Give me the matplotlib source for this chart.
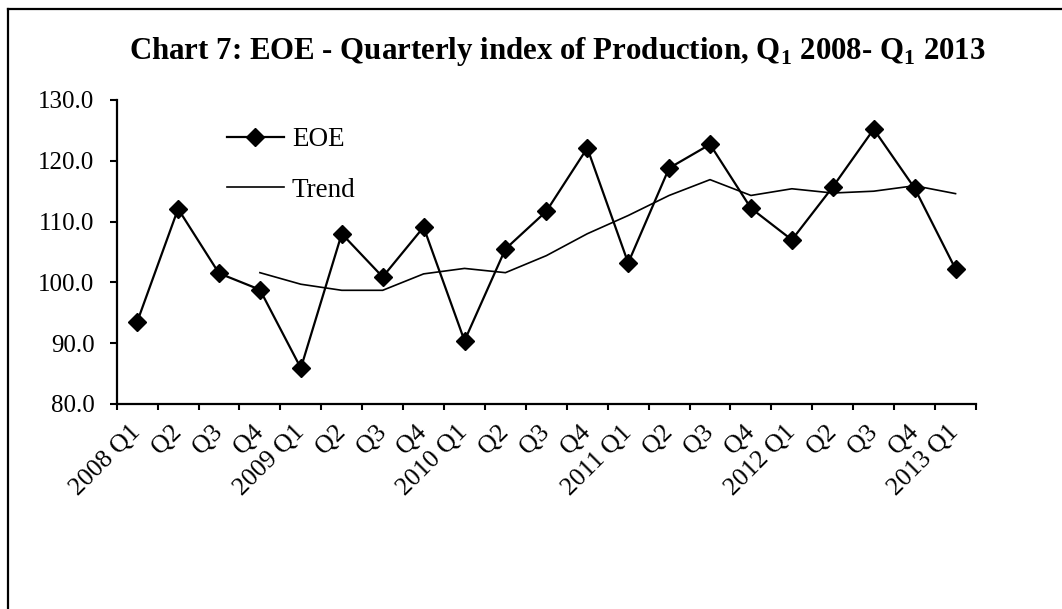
import matplotlib
matplotlib.use("Agg")
import matplotlib.pyplot as plt
import numpy as np

categories = ["2008 Q1", "Q2", "Q3", "Q4", "2009 Q1", "Q2", "Q3", "Q4",
              "2010 Q1", "Q2", "Q3", "Q4", "2011 Q1", "Q2", "Q3", "Q4",
              "2012 Q1", "Q2", "Q3", "Q4", "2013 Q1"]
eoe = [93.5, 112.1, 101.5, 98.8, 85.9, 108.0, 100.9, 109.1,
       90.4, 105.5, 111.7, 122.1, 103.2, 118.8, 122.7, 112.2,
       107.0, 115.7, 125.2, 115.5, 102.2]
trend = [np.nan, np.nan, np.nan, 101.6, 99.7, 98.7, 98.7, 101.4,
         102.3, 101.6, 104.4, 108.0, 111.0, 114.3, 116.9, 114.3,
         115.4, 114.7, 115.0, 115.9, 114.6]
yticks = [80, 90, 100, 110, 120, 130]

plt.rcParams['font.family'] = ['Liberation Serif', 'DejaVu Serif']
plt.rcParams['mathtext.fontset'] = 'custom'
plt.rcParams['mathtext.rm'] = 'Liberation Serif'
plt.rcParams['mathtext.bf'] = 'Liberation Serif:bold'

W, H = 1062, 609
fig = plt.figure(figsize=(W / 100, H / 100), dpi=100)
ax = fig.add_axes([116.7 / W, 1 - 404 / H, (976 - 116.7) / W, (404 - 100) / H])

x = np.arange(len(categories))
ax.plot(x, eoe, color='black', lw=1.6, marker='D', ms=9, mec='black',
        mfc='black', label='EOE')
ax.plot(x, trend, color='black', lw=1.2, label='Trend')

ax.set_xlim(-0.5, len(categories) - 0.5)
ax.set_ylim(80, 130)
ax.set_yticks(yticks)
ax.set_yticklabels([f"{v:.1f}" for v in yticks], fontsize=18)
ax.tick_params(axis='y', direction='out', length=5, width=1.5, pad=11)

ax.set_xticks(np.arange(-0.5, len(categories)), minor=False)
ax.set_xticklabels([])
ax.tick_params(axis='x', which='major', direction='out', length=4.5, width=1.5)
ax.set_xticks(x, minor=True)
ax.set_xticklabels(categories, minor=True, rotation=45, ha='right', va='center',
                   rotation_mode='anchor', fontsize=18.5)
ax.tick_params(axis='x', which='minor', length=0, pad=18)

for s in ['top', 'right']:
    ax.spines[s].set_visible(False)
for s in ['left', 'bottom']:
    ax.spines[s].set_linewidth(1.6)

ax.legend(loc='upper left', bbox_to_anchor=(227 / W, 1 - 127 / H),
          bbox_transform=fig.transFigure, frameon=False, fontsize=19.5,
          handlelength=2.1, handletextpad=0.3, labelspacing=0.95,
          borderpad=0, borderaxespad=0)

fig.text(557 / W, 1 - 52 / H,
         r"Chart 7: EOE - Quarterly index of Production, Q$_\mathbf{1}$ 2008- Q$_\mathbf{1}$ 2013",
         ha='center', va='center', fontsize=22.2, fontweight='bold')

# frame (left and top edges)
fig.add_artist(plt.Line2D([8 / W, 8 / W], [0, 1 - 9 / H], transform=fig.transFigure,
                          color='black', lw=1.6))
fig.add_artist(plt.Line2D([8 / W, 1], [1 - 9 / H, 1 - 9 / H], transform=fig.transFigure,
                          color='black', lw=1.6))

fig.savefig("out.png", dpi=100)
